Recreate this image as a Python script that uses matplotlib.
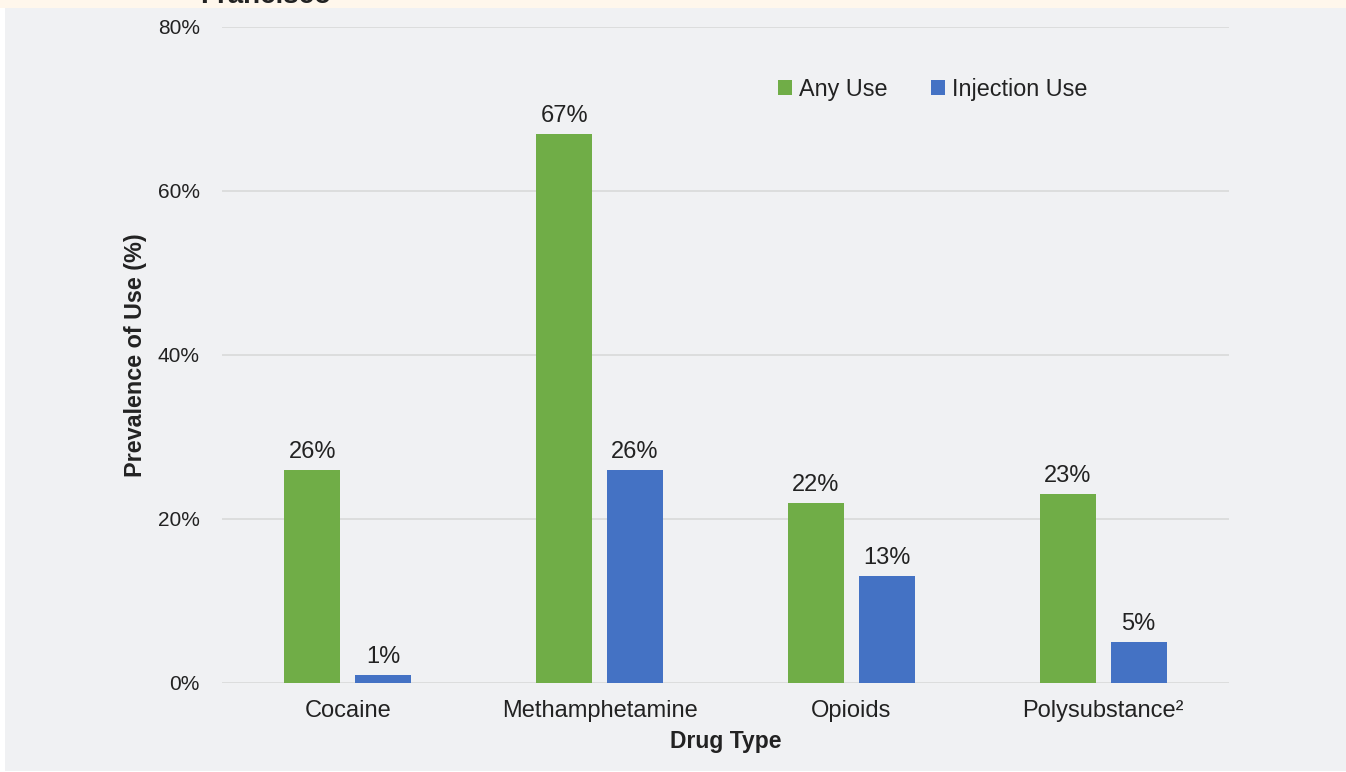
import matplotlib
matplotlib.use("Agg")
import matplotlib.pyplot as plt
import numpy as np
from matplotlib.patches import Rectangle

plt.rcParams['font.family'] = ['Liberation Sans', 'DejaVu Sans']

categories = ["Cocaine", "Methamphetamine", "Opioids", "Polysubstance²"]
any_use = [26, 67, 22, 23]
injection_use = [1, 26, 13, 5]
series_names = ["Any Use", "Injection Use"]
yticks = [0, 20, 40, 60, 80]
ytick_labels = ["0%", "20%", "40%", "60%", "80%"]

W, H = 1346, 772
fig = plt.figure(figsize=(W / 100, H / 100), dpi=100)
fig.patch.set_facecolor("white")

# background panels
fig.add_artist(Rectangle((5 / W, 1 / H), 1 - 5 / W, (763) / H, transform=fig.transFigure,
                         facecolor="#F0F1F3", edgecolor="none", zorder=-10))
fig.add_artist(Rectangle((0, 1 - 8 / H), 1, 8 / H, transform=fig.transFigure,
                         facecolor="#FFF7EC", edgecolor="none", zorder=-9))
fig.text(200 / W, 1 - 3 / H, "Francisco", fontsize=20, fontweight="bold",
         color="#222222", va="baseline", ha="left")

ax = fig.add_axes([222 / W, 1 - 683 / H, (1229 - 222) / W, (683 - 27) / H])
ax.set_facecolor("none")

x = np.arange(len(categories))
w = 0.222
off = 0.141
green = "#70AD47"
blue = "#4472C4"
b1 = ax.bar(x - off, any_use, w, color=green, label=series_names[0], zorder=3)
b2 = ax.bar(x + off, injection_use, w, color=blue, label=series_names[1], zorder=3)

for bars, vals in ((b1, any_use), (b2, injection_use)):
    for b, v in zip(bars, vals):
        ax.annotate(f"{v}%", (b.get_x() + b.get_width() / 2, v), xytext=(0, 5),
                    textcoords="offset points", ha="center", va="bottom",
                    fontsize=17, color="#222222")

ax.set_xlim(-0.5, len(categories) - 0.5)
ax.set_ylim(0, 80)
ax.set_yticks(yticks)
ax.set_yticklabels(ytick_labels, fontsize=15, color="#222222")
ax.set_xticks(x)
ax.set_xticklabels(categories, fontsize=17, color="#222222")
ax.tick_params(axis="both", length=0)
ax.tick_params(axis="y", pad=16)
ax.tick_params(axis="x", pad=12)
ax.grid(axis="y", color="#D9D9D9", linewidth=1.2, zorder=0)
for s in ax.spines.values():
    s.set_visible(False)

ax.set_xlabel("Drug Type", fontsize=16.5, fontweight="bold", color="#222222", labelpad=6)
ax.set_ylabel("Prevalence of Use (%)", fontsize=16.8, fontweight="bold", color="#222222", labelpad=8)

leg = ax.legend(loc="center left", bbox_to_anchor=(0.552, 0.905), ncol=2, frameon=False,
                fontsize=16.8, handlelength=0.6, handleheight=0.6, handletextpad=0.3,
                columnspacing=1.85, borderpad=0, borderaxespad=0)
for t in leg.get_texts():
    t.set_color("#222222")

fig.savefig("out.png", dpi=100)
